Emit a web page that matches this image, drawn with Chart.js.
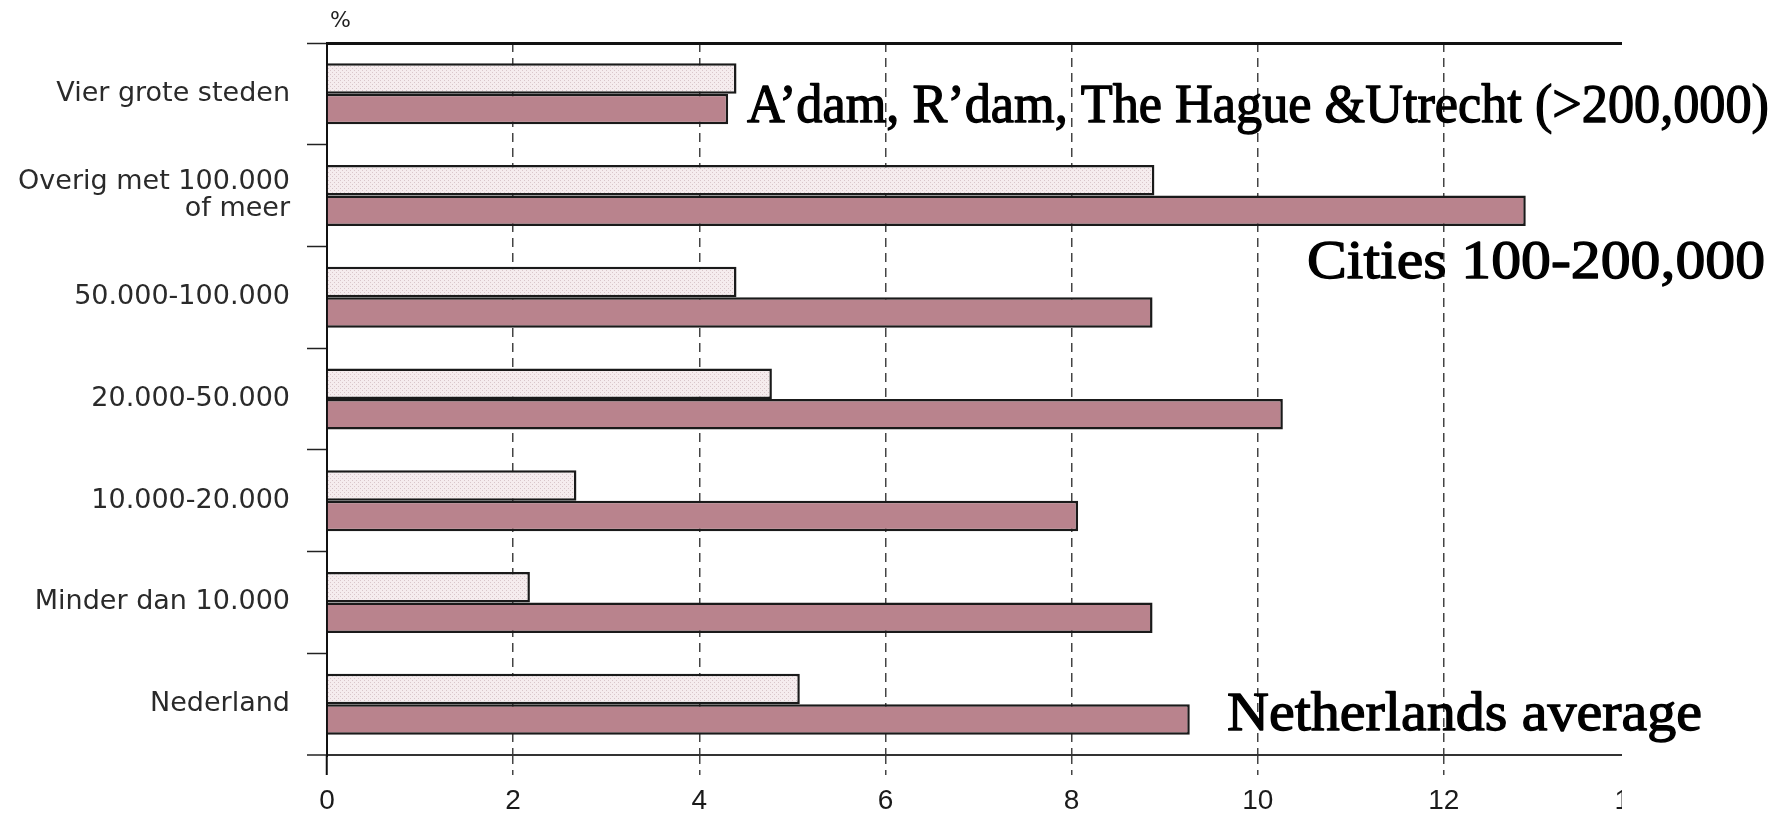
<!DOCTYPE html>
<html>
<head>
<meta charset="utf-8">
<script src="https://cdn.jsdelivr.net/npm/chart.js@4"></script>
<style>
  html, body { margin: 0; padding: 0; background: #fff; }
  canvas { display: block; }
</style>
</head>
<body>
<canvas id="myChart" width="1790" height="816"></canvas>
<script>
const categorieen = ['Vier grote steden', ['Overig met 100.000', 'of meer'], '50.000-100.000', '20.000-50.000', '10.000-20.000', 'Minder dan 10.000', 'Nederland']
const lichteReeks = [4.40, 8.89, 4.40, 4.78, 2.68, 2.18, 5.08]
const donkereReeks = [4.31, 12.88, 8.87, 10.27, 8.07, 8.87, 9.27]
const xTicks = [0, 2, 4, 6, 8, 10, 12, 14]
const notities = ['A’dam, R’dam, The Hague &Utrecht (>200,000)', 'Cities 100-200,000', 'Netherlands average']

var ctx = document.getElementById('myChart')
var g2d = ctx.getContext('2d')

// small dotted raster for the pale bars, like the printed screen
const tile = document.createElement('canvas')
tile.width = 4
tile.height = 4
const t = tile.getContext('2d')
t.fillStyle = '#f5ecee'
t.fillRect(0, 0, 4, 4)
t.fillStyle = '#d9c6ca'
t.fillRect(0, 0, 1, 1)
t.fillRect(2, 2, 1, 1)
const raster = g2d.createPattern(tile, 'repeat')

const isNul = c => c.tick && c.tick.value === 0

// where the overlay texts sit (left x, baseline y, width)
const notitiePlek = [
    { x: 747, y: 122, w: 1022 },
    { x: 1307, y: 278, w: 458 },
    { x: 1227, y: 730, w: 475 }
]

const notitiePlugin = {
    id: 'notities',
    afterDraw(chart) {
        const c = chart.ctx
        c.save()
        // the scan is cut off just right of the axis end
        c.fillStyle = '#fff'
        c.fillRect(1622, 0, chart.width - 1622, chart.height)

        c.fillStyle = '#222'
        c.font = '22px "DejaVu Sans"'
        c.textBaseline = 'middle'
        c.fillText('%', chart.scales.x.getPixelForValue(0) + 3, 21)

        c.fillStyle = '#000'
        c.strokeStyle = '#000'
        c.lineWidth = 1.3
        c.lineJoin = 'round'
        c.textBaseline = 'alphabetic'
        c.font = '54px "Liberation Serif"'
        notities.forEach((tekst, i) => {
            const p = notitiePlek[i]
            const breed = c.measureText(tekst).width
            c.save()
            c.translate(p.x, p.y)
            c.scale(p.w / breed, 1)
            c.fillText(tekst, 0, 0)
            c.strokeText(tekst, 0, 0)
            c.restore()
        })
        c.restore()
    }
}

var myChart = new Chart(ctx, {
    type: 'bar',
    data: {
        labels: categorieen,
        datasets: [{
            label: 'Licht',
            data: lichteReeks,
            backgroundColor: raster,
            borderColor: '#1a1a1a',
            borderWidth: 2.5
        }, {
            label: 'Donker',
            data: donkereReeks,
            backgroundColor: '#b9838d',
            borderColor: '#1a1a1a',
            borderWidth: 2.5
        }]
    },
    options: {
        indexAxis: 'y',
        responsive: false,
        animation: false,
        events: [],
        datasets: {
            bar: { categoryPercentage: 0.6, barPercentage: 1.0 }
        },
        layout: { padding: { top: 43, right: 160, left: 0, bottom: 0 } },
        plugins: {
            legend: { display: false },
            tooltip: { enabled: false }
        },
        scales: {
            x: {
                type: 'linear',
                min: 0,
                max: 14,
                afterBuildTicks: s => { s.ticks = xTicks.map(v => ({ value: v })) },
                afterFit: s => { s.height = 61 },
                grid: {
                    color: c => isNul(c) ? 'rgba(0,0,0,0)' : '#444',
                    lineWidth: 1.5,
                    tickLength: 20,
                    tickColor: c => isNul(c) ? '#111' : '#444',
                    tickWidth: c => isNul(c) ? 2 : 1.5,
                    tickBorderDash: c => isNul(c) ? [] : [9, 6]
                },
                border: { display: false, dash: [9, 6] },
                ticks: {
                    color: '#1a1a1a',
                    padding: 9,
                    font: { family: '"Liberation Sans"', size: 28 }
                }
            },
            y: {
                afterFit: s => { s.width = 327 },
                grid: {
                    offset: true,
                    color: c => c.type === 'scale' ? '#333' : (c.index === 0 ? '#111' : 'rgba(0,0,0,0)'),
                    lineWidth: c => c.type === 'scale' ? 2 : (c.index === 0 ? 3 : 1),
                    tickLength: 20,
                    tickColor: '#222',
                    tickWidth: 1.5
                },
                border: { display: true, color: '#111', width: 2 },
                ticks: {
                    color: '#2a2a2a',
                    padding: 17,
                    font: { family: '"DejaVu Sans"', size: 27, lineHeight: 1.02 }
                }
            }
        }
    },
    plugins: [notitiePlugin]
})
</script>
</body>
</html>
